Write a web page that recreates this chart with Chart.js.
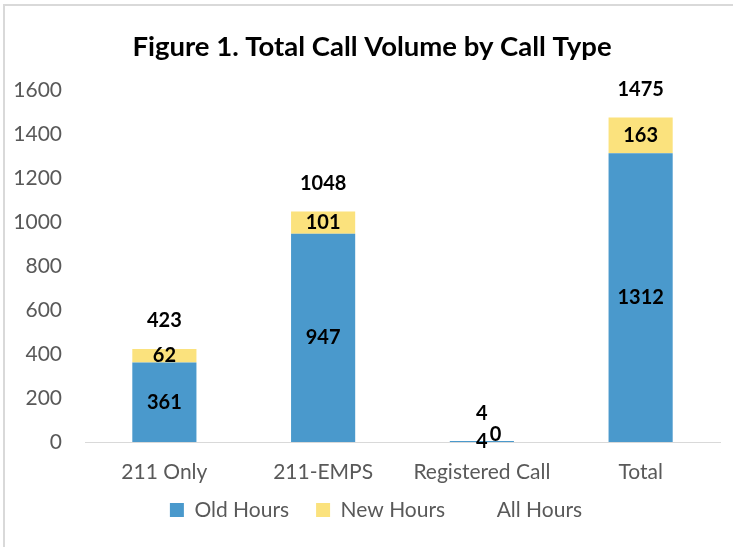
<!DOCTYPE html>
<html><head><meta charset="utf-8">
<script src="https://cdn.jsdelivr.net/npm/chart.js@4.4.1/dist/chart.umd.min.js"></script>
<style>html,body{margin:0;padding:0;background:#fff;overflow:hidden;}</style>
</head><body>
<canvas id="c" width="733" height="547" style="display:block;width:733px;height:547px"></canvas>
<script>
const categories = ['211 Only', '211-EMPS', 'Registered Call', 'Total'];
const oldHours = [361, 947, 4, 1312];
const newHours = [62, 101, 0, 163];
const allHours = [423, 1048, 4, 1475];
const yTickValues = [0, 200, 400, 600, 800, 1000, 1200, 1400, 1600];
const seriesNames = ['Old Hours', 'New Hours', 'All Hours'];

const FONT = 'Lato';
const GRAY = '#595959';

const framePlugin = {
  id: 'frame',
  beforeDraw(chart) {
    const ctx = chart.ctx;
    ctx.save();
    ctx.fillStyle = '#fff';
    ctx.fillRect(0, 0, chart.width, chart.height);
    ctx.fillStyle = '#d9d9d9';
    ctx.fillRect(3, 4, 2, chart.height - 4);
    ctx.fillRect(3, 4, chart.width - 3, 2);
    ctx.restore();
  }
};

// the original figure is centred on a slightly wider frame: nudge title and legend
const nudgePlugin = {
  id: 'nudge',
  afterLayout(chart) {
    const t = chart.titleBlock;
    if (t) { t.left += 12; t.right += 12; }
    const l = chart.legend;
    if (l) { l.top -= 12.5; l.bottom -= 12.5; l.left += 16; l.right += 16; }
  }
};

const labelPlugin = {
  id: 'valueLabels',
  afterDatasetsDraw(chart) {
    const ctx = chart.ctx;
    ctx.save();
    ctx.font = 'bold 20px ' + FONT;
    ctx.fillStyle = '#000';
    ctx.textAlign = 'center';
    ctx.textBaseline = 'middle';
    const placed = [];
    chart.data.datasets.forEach((ds, di) => {
      const meta = chart.getDatasetMeta(di);
      meta.data.forEach((el, i) => {
        const text = String(ds.data[i]);
        let x = el.x, y;
        if (meta.type === 'bar') y = (el.y + el.base) / 2;
        else y = el.y - 28;
        const w = ctx.measureText(text).width, h = 16;
        for (const p of placed) {
          if (Math.abs(p.x - x) < (p.w + w) / 2 && Math.abs(p.y - y) < h) {
            x += (p.w + w) / 2 + 2;
            y -= 7;
          }
        }
        ctx.fillText(text, x, y);
        placed.push({x, y, w});
      });
    });
    ctx.restore();
  }
};

new Chart(document.getElementById('c'), {
  type: 'bar',
  data: {
    labels: categories,
    datasets: [
      { label: seriesNames[0], data: oldHours, backgroundColor: '#4a99cc', stack: 'bars',
        barPercentage: 0.404, categoryPercentage: 1 },
      { label: seriesNames[1], data: newHours, backgroundColor: '#fbe27d', stack: 'bars',
        barPercentage: 0.404, categoryPercentage: 1 },
      { type: 'line', label: seriesNames[2], data: allHours, stack: 'all', showLine: false,
        pointRadius: 0, pointHoverRadius: 0, borderColor: 'rgba(0,0,0,0)',
        backgroundColor: 'rgba(0,0,0,0)', borderWidth: 0 }
    ]
  },
  options: {
    responsive: false,
    animation: false,
    events: [],
    layout: { padding: { left: 0, right: 13, top: 0, bottom: 4 } },
    plugins: {
      tooltip: { enabled: false },
      title: {
        display: true,
        text: 'Figure 1. Total Call Volume by Call Type',
        color: '#000',
        font: { family: FONT, size: 27.5, weight: 'bold', lineHeight: 1.2 },
        padding: { top: 30.5, bottom: 26.5 }
      },
      legend: {
        position: 'bottom',
        labels: {
          color: GRAY,
          font: { family: FONT, size: 21 },
          boxWidth: 14, boxHeight: 14,
          padding: 27
        }
      }
    },
    scales: {
      x: {
        stacked: true,
        grid: { display: false, drawTicks: false, tickLength: 0 },
        border: { display: true, color: '#d9d9d9', width: 1 },
        ticks: { color: GRAY, font: { family: FONT, size: 21 }, padding: 17.4, maxRotation: 0 },
        afterFit(scale) { scale.height = 43; }
      },
      y: {
        stacked: true,
        min: 0, max: 1600,
        afterBuildTicks(scale) { scale.ticks = yTickValues.map(v => ({ value: v })); },
        grid: { display: false, drawTicks: false, tickLength: 0 },
        border: { display: false },
        ticks: { color: GRAY, font: { family: FONT, size: 21 }, padding: 23,
                 callback: (v) => String(v) },
        afterFit(scale) { scale.width = 85; }
      }
    }
  },
  plugins: [framePlugin, nudgePlugin, labelPlugin]
});
</script>
</body></html>
